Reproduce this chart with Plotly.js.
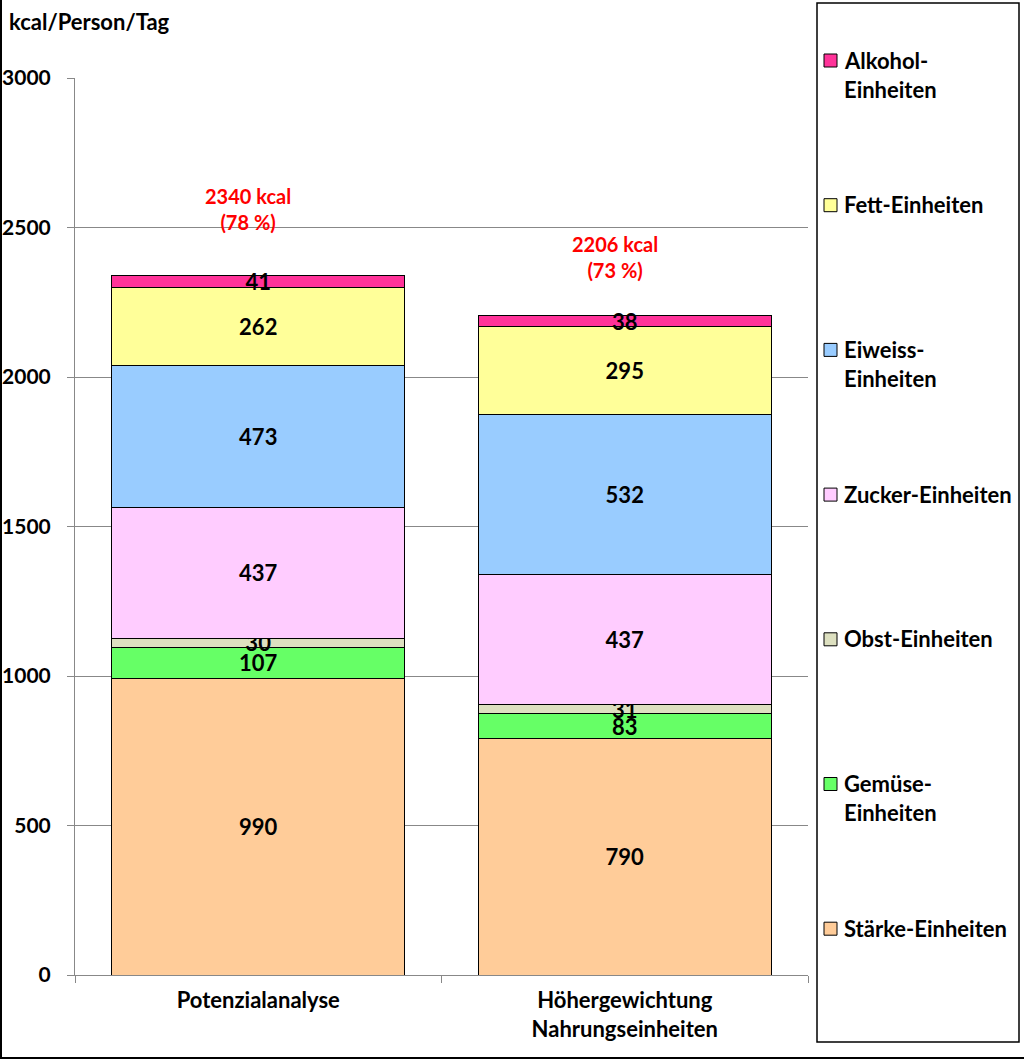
<!DOCTYPE html>
<html>
<head>
<meta charset="utf-8">
<script src="https://cdn.plot.ly/plotly-3.0.1.min.js"></script>
<style>html,body{margin:0;padding:0;background:#fff;}#chart{width:1024px;height:1060px;}</style>
</head>
<body>
<div id="chart"></div>
<script>
// ---- data ----
const categories = ['Potenzialanalyse', 'Höhergewichtung<br>Nahrungseinheiten'];
const seriesNames = ['Stärke-Einheiten', 'Gemüse-<br>Einheiten', 'Obst-Einheiten', 'Zucker-Einheiten', 'Eiweiss-<br>Einheiten', 'Fett-Einheiten', 'Alkohol-<br>Einheiten'];
const staerke = [990, 790];
const gemuese = [107, 83];
const obst = [30, 31];
const zucker = [437, 437];
const eiweiss = [473, 532];
const fett = [262, 295];
const alkohol = [41, 38];
const totals = [2340, 2206];
const shares = ['78 %', '73 %'];
const yTitle = 'kcal/Person/Tag';

// ---- styles ----
const colors = ['#FFCC99', '#66FF66', '#DDE0C0', '#FFCCFF', '#99CCFF', '#FFFF99', '#FF3399'];
const FONT = 'Lato, "Open Sans", sans-serif';
const seriesValues = [staerke, gemuese, obst, zucker, eiweiss, fett, alkohol];

const W = 1024, H = 1060;
const M = {l: 75, r: 216, t: 78, b: 85};
const PW = W - M.l - M.r, PH = H - M.t - M.b;
const px = x => (x - M.l) / PW;
const py = y => (H - M.b - y) / PH;

const traces = seriesValues.map((vals, i) => ({
  type: 'bar',
  name: seriesNames[i],
  x: categories,
  y: vals,
  text: vals.map(String),
  textposition: 'inside',
  insidetextanchor: 'middle',
  textangle: 0,
  constraintext: 'none',
  textfont: {family: FONT, size: 22, color: '#000', weight: 'bold'},
  marker: {color: colors[i], line: {color: '#000', width: 1}},
  showlegend: false,
  hoverinfo: 'x+y+name'
}));

const annotations = [];
const shapes = [];

// y-axis title
annotations.push({xref: 'paper', yref: 'paper', x: px(7), y: py(22), xanchor: 'left', yanchor: 'middle',
  text: '<b>' + yTitle + '</b>', showarrow: false, font: {family: FONT, size: 22, color: '#000'}});

// total labels
const totalLabelY = [2562, 2401];
categories.forEach((c, i) => {
  annotations.push({x: c, y: totalLabelY[i], xref: 'x', yref: 'y', xshift: -10,
    text: '<b>' + totals[i] + ' kcal<br>(' + shares[i] + ')</b>', showarrow: false,
    font: {family: FONT, size: 20, color: '#FF0000'}, align: 'center'});
});

// legend box
shapes.push({type: 'rect', xref: 'paper', yref: 'paper', x0: px(817), x1: px(1019), y0: py(1042), y1: py(3),
  line: {color: '#000', width: 1.5}, fillcolor: 'rgba(0,0,0,0)'});
// outer border (left + bottom)
shapes.push({type: 'line', xref: 'paper', yref: 'paper', x0: px(1), x1: px(1), y0: py(1059), y1: py(0), line: {color: '#000', width: 2}});
shapes.push({type: 'line', xref: 'paper', yref: 'paper', x0: px(0), x1: px(1024), y0: py(1058), y1: py(1058), line: {color: '#000', width: 2}});

// legend entries (top = last series)
const nItems = seriesNames.length;
for (let k = 0; k < nItems; k++) {
  const i = nItems - 1 - k;
  const yc = 60 + k * 144.7;
  shapes.push({type: 'rect', xref: 'paper', yref: 'paper', x0: px(824), x1: px(837), y0: py(yc + 7), y1: py(yc - 6),
    fillcolor: colors[i], line: {color: '#000', width: 1}});
  seriesNames[i].split('<br>').forEach((line, j) => {
    annotations.push({xref: 'paper', yref: 'paper', x: px(842), y: py(yc + j * 29), xanchor: 'left', yanchor: 'middle',
      text: '<b>' + line + '</b>', showarrow: false, font: {family: FONT, size: 22, color: '#000'}});
  });
}

const layout = {
  width: W, height: H,
  margin: M,
  paper_bgcolor: '#fff', plot_bgcolor: '#fff',
  barmode: 'stack',
  bargap: 0.2,
  showlegend: false,
  font: {family: FONT, size: 22, color: '#000'},
  xaxis: {
    type: 'category',
    showline: true, linecolor: '#888', linewidth: 1,
    ticks: 'outside', tickson: 'boundaries', ticklen: 7, tickcolor: '#888',
    ticklabelstandoff: 6,
    tickfont: {family: FONT, size: 22, color: '#000', weight: 'bold'},
    showgrid: false, zeroline: false
  },
  yaxis: {
    range: [0, 3000], dtick: 500, tick0: 0,
    showline: true, linecolor: '#888', linewidth: 1,
    ticks: 'outside', ticklen: 7, tickcolor: '#888',
    ticklabelstandoff: 12,
    tickfont: {family: FONT, size: 21, color: '#000', weight: 'bold'},
    showgrid: true, gridcolor: '#888', gridwidth: 1, zeroline: false
  },
  annotations: annotations,
  shapes: shapes
};

Plotly.newPlot('chart', traces, layout, {displayModeBar: false, staticPlot: true});
</script>
</body>
</html>
